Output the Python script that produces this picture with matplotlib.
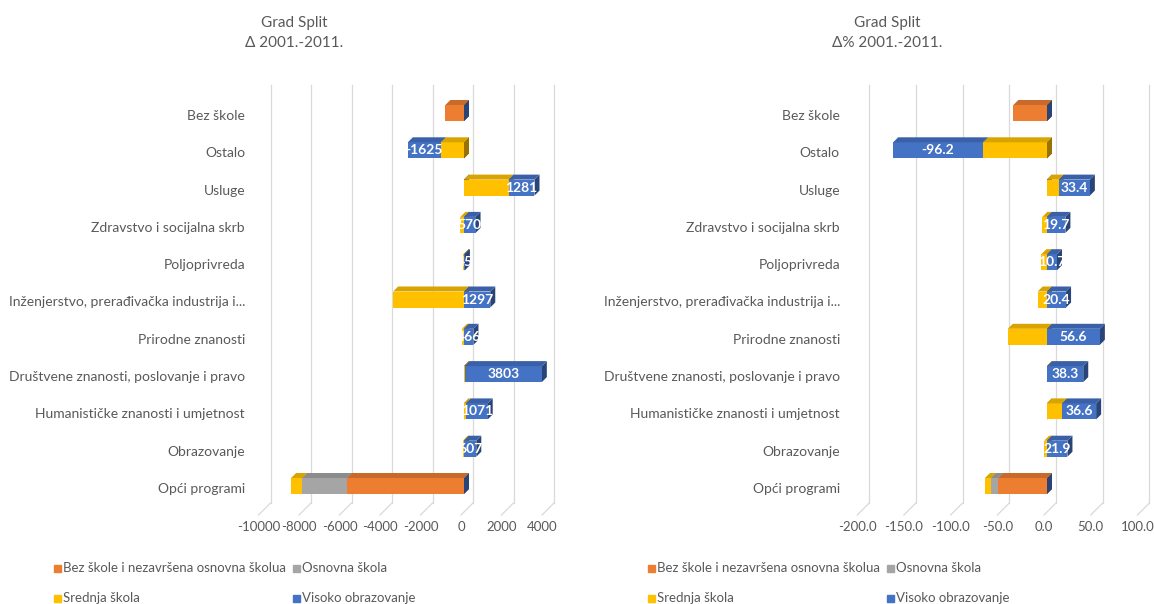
import numpy as np
import matplotlib.pyplot as plt
from matplotlib.patches import Polygon, Rectangle
from matplotlib.colors import to_rgb

plt.rcParams['font.family'] = ['Lato', 'DejaVu Sans']

# categories (top to bottom)
categories = ["Bez škole", "Ostalo", "Usluge", "Zdravstvo i socijalna skrb",
              "Poljoprivreda", "Inženjerstvo, prerađivačka industrija i...",
              "Prirodne znanosti", "Društvene znanosti, poslovanje i pravo",
              "Humanističke znanosti i umjetnost", "Obrazovanje", "Opći programi"]

series_names = ["Bez škole i nezavršena osnovna školua", "Osnovna škola",
                "Srednja škola", "Visoko obrazovanje"]

# absolute change 2001-2011
abs_bez = [-920, 0, 0, 0, 0, 0, 0, 0, 0, 0, -5780]
abs_osn = [0, 0, 0, 0, 0, 0, 0, 0, 0, 0, -2220]
abs_sred = [0, -1150, 2200, -180, -30, -3500, -100, 40, 100, -60, -540]
abs_vis = [0, -1625, 1281, 570, 45, 1297, 466, 3803, 1071, 607, 0]

# relative change 2001-2011 (%)
pct_bez = [-36, 0, 0, 0, 0, 0, 0, 0, 0, 0, -52]
pct_osn = [0, 0, 0, 0, 0, 0, 0, 0, 0, 0, -8]
pct_sred = [0, -68.5, 12.5, -5, -6, -10, -42, 0.5, 16, -3, -6.4]
pct_vis = [0, -96.2, 33.4, 19.7, 10.7, 20.4, 56.6, 38.3, 36.6, 21.9, 0]

abs_ticks = [-10000, -8000, -6000, -4000, -2000, 0, 2000, 4000]
pct_ticks = [-200, -150, -100, -50, 0, 50, 100]

colors = ["#ED7D31", "#A5A5A5", "#FFC000", "#4472C4"]
txt_col = "#595959"
grid_col = "#D9D9D9"

W, H = 1154, 604
fig = plt.figure(figsize=(W / 100, H / 100), dpi=100)

ROW = 37.3      # px per category
Y0 = 113        # px of first bar centre
BAR_H = 16      # px
DEPTH = 5       # px depth of a bar
WALL = 12       # px depth of the floor


def shade(c, f):
    r, g, b = to_rgb(c)
    return (r * f, g * f, b * f)


def panel(left_px, right_px, zero_px, k, data, ticks, fmt, tfmt):
    ax = fig.add_axes([left_px / W, 1 - 545 / H, (right_px - left_px) / W, 480 / H])
    ax.set_xlim((left_px - zero_px) / k, (right_px - zero_px) / k)
    ax.set_ylim((545 - Y0) / ROW, (65 - Y0) / ROW)
    ax.axis('off')
    px = lambda p: p / k        # px -> data x
    py = lambda p: p / ROW      # px -> data y

    # back wall grid + floor lines
    y_top, y_back, y_front = (85 - Y0) / ROW, (503 - Y0) / ROW, (515 - Y0) / ROW
    for t in ticks:
        xb = t + px(WALL - 3)
        xf = t - px(3)
        ax.plot([xb, xb], [y_top, y_back], color=grid_col, lw=0.9, zorder=1)
        ax.plot([xb, xf], [y_back, y_front], color=grid_col, lw=0.9, zorder=1)
        ax.text(xf, (527 - Y0) / ROW, tfmt(t), ha='center', va='center',
                fontsize=9.5, color=txt_col)

    y = np.arange(len(categories))
    h = BAR_H / ROW
    pos = np.zeros(len(y))
    neg = np.zeros(len(y))
    segs = []
    for vals, c in zip(data, colors):
        vals = np.array(vals, dtype=float)
        lefts = np.where(vals >= 0, pos, neg + vals)
        ax.barh(y, np.abs(vals), left=lefts, height=h, color=c, zorder=3)
        segs.append((lefts, np.abs(vals), c))
        pos = pos + np.where(vals >= 0, vals, 0)
        neg = neg + np.where(vals < 0, vals, 0)

    # 3d faces
    for lefts, widths, c in segs:
        for i in range(len(y)):
            l, r = lefts[i], lefts[i] + widths[i]
            top = y[i] - h / 2
            bot = y[i] + h / 2
            ax.add_patch(Polygon([(r, top), (r, bot), (r + px(DEPTH), bot - py(DEPTH)),
                                  (r + px(DEPTH), top - py(DEPTH))],
                                 closed=True, color=shade(c, 0.6), lw=0, zorder=2))
            if widths[i] > 0:
                ax.add_patch(Polygon([(l, top), (r, top), (r + px(DEPTH), top - py(DEPTH)),
                                      (l + px(DEPTH), top - py(DEPTH))],
                                     closed=True, color=shade(c, 0.85), lw=0, zorder=3))

    # labels for Visoko obrazovanje
    lefts, widths, _ = segs[3]
    for i in range(len(y)):
        if widths[i] > 0:
            ax.text(lefts[i] + widths[i] / 2, y[i], fmt(data[3][i]), ha='center',
                    va='center', color='white', fontsize=10, fontweight='bold', zorder=4)

    # category labels, right edge 5 px left of the axes
    xl = (left_px - 5 - zero_px) / k
    for i, name in enumerate(categories):
        ax.text(xl, y[i] + py(3), name, ha='right', va='center', fontsize=10,
                color=txt_col, clip_on=False)
    return ax


panel(250, 570, 464, 0.02025, [abs_bez, abs_osn, abs_sred, abs_vis], abs_ticks,
      lambda v: f"{v:.0f}", lambda t: f"{t}")
panel(845, 1154, 1047, 0.934, [pct_bez, pct_osn, pct_sred, pct_vis], pct_ticks,
      lambda v: f"{v:.1f}", lambda t: f"{t:.1f}")

# titles
for cx, sub in [(294, "Δ 2001.-2011."), (887, "Δ% 2001.-2011.")]:
    fig.text(cx / W, 1 - 23 / H, "Grad Split", ha='center', va='center',
             fontsize=11, color=txt_col)
    fig.text(cx / W, 1 - 43 / H, sub, ha='center', va='center',
             fontsize=11, color=txt_col)

# legends
for off in (0, 594):
    items = [(54, 568, 0), (293, 568, 1), (54, 598, 2), (293, 598, 3)]
    for x, yy, j in items:
        fig.patches.append(Rectangle(((x + off) / W, 1 - (yy + 3.5) / H), 7 / W, 7 / H,
                                     transform=fig.transFigure, color=colors[j]))
        fig.text((x + off + 9) / W, 1 - yy / H, series_names[j], ha='left',
                 va='center', fontsize=9.5, color=txt_col)

fig.savefig("out.png", dpi=100)
